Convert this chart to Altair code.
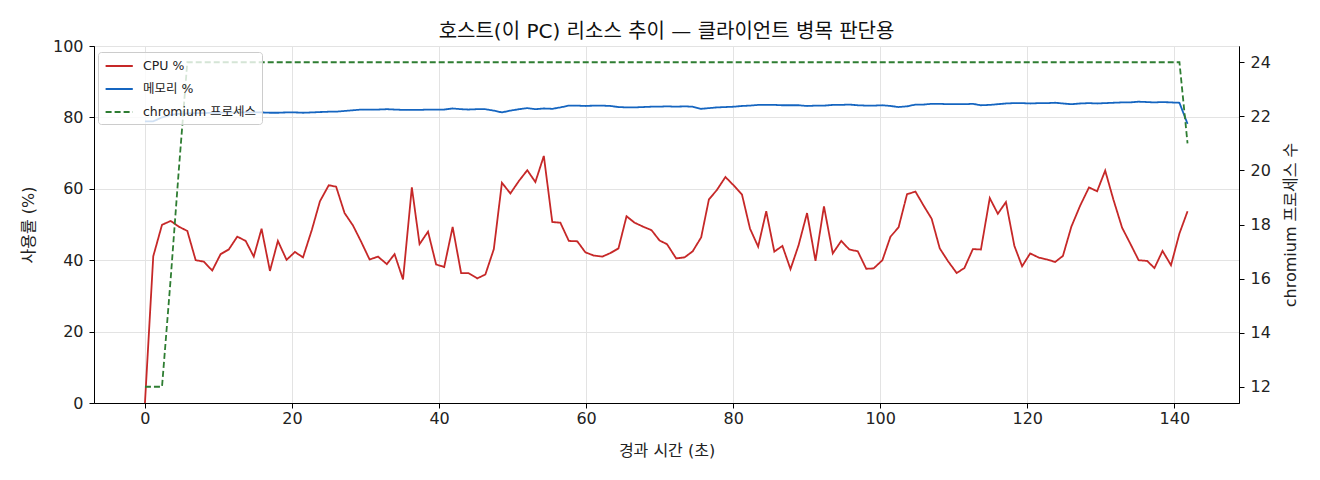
"""Host resource trend chart (CPU / memory / chromium process count)."""
import altair as alt
import pandas as pd

FONT = 'DejaVu Sans, Noto Sans CJK KR'

times = [
    0.0, 1.13, 2.32, 3.5, 4.6, 5.76, 6.9, 8.0, 9.15, 10.29,
    11.4, 12.56, 13.7, 14.8, 15.86, 17.0, 18.08, 19.26, 20.4, 21.5,
    22.7, 23.8, 25.0, 26.0, 27.15, 28.3, 29.4, 30.55, 31.7, 32.9,
    33.95, 35.1, 36.3, 37.35, 38.5, 39.6, 40.7, 41.85, 43.0, 44.0,
    45.2, 46.3, 47.45, 48.55, 49.7, 50.9, 52.0, 53.1, 54.25, 55.4,
    56.5, 57.65, 58.8, 59.9, 61.05, 62.2, 63.3, 64.4, 65.5, 66.6,
    67.75, 68.9, 70.0, 71.0, 72.25, 73.4, 74.5, 75.65, 76.7, 77.8,
    78.95, 80.1, 81.2, 82.3, 83.4, 84.5, 85.6, 86.7, 87.8, 88.9,
    90.05, 91.2, 92.35, 93.55, 94.7, 95.8, 96.95, 98.1, 99.1, 100.3,
    101.4, 102.5, 103.65, 104.8, 105.9, 107.0, 108.1, 109.2, 110.4, 111.45,
    112.6, 113.7, 114.9, 116.0, 117.1, 118.25, 119.3, 120.4, 121.6, 122.7,
    123.8, 124.85, 126.0, 127.2, 128.4, 129.5, 130.6, 131.7, 132.9, 134.0,
    135.15, 136.3, 137.3, 138.4, 139.55, 140.7, 141.8,
]

cpu = [
    0.0, 41.1, 49.9, 51.0, 49.4, 48.2, 40.0, 39.6, 37.1, 41.7,
    43.0, 46.6, 45.4, 41.0, 48.8, 37.0, 45.4, 40.1, 42.3, 40.8,
    48.5, 56.5, 61.0, 60.6, 53.2, 49.7, 45.2, 40.2, 41.0, 38.9,
    41.7, 34.6, 60.4, 44.5, 48.0, 38.8, 38.1, 49.3, 36.4, 36.4,
    34.9, 36.0, 43.1, 61.7, 58.7, 62.3, 65.2, 61.9, 69.2, 50.7,
    50.5, 45.4, 45.3, 42.2, 41.3, 41.0, 42.0, 43.3, 52.3, 50.5,
    49.4, 48.4, 45.5, 44.5, 40.5, 40.8, 42.5, 46.4, 57.0, 59.7,
    63.3, 60.9, 58.4, 48.8, 43.8, 53.7, 42.4, 44.0, 37.5, 44.2,
    53.2, 39.8, 55.1, 41.9, 45.4, 43.0, 42.5, 37.6, 37.7, 40.0,
    46.6, 49.2, 58.5, 59.2, 55.3, 51.6, 43.3, 39.8, 36.4, 37.8,
    43.1, 43.0, 57.4, 53.0, 56.3, 44.0, 38.3, 41.9, 40.7, 40.2,
    39.5, 41.2, 49.4, 55.3, 60.4, 59.3, 65.1, 57.1, 49.1, 44.7,
    40.0, 39.8, 37.8, 42.6, 38.6, 47.5, 53.7,
]

memory = [
    78.9, 78.9, 80.0, 80.7, 81.0, 81.1, 81.2, 81.2, 81.3, 81.3,
    81.4, 81.4, 81.4, 81.4, 81.4, 81.3, 81.3, 81.4, 81.4, 81.3,
    81.4, 81.5, 81.6, 81.6, 81.8, 82.0, 82.2, 82.2, 82.2, 82.3,
    82.2, 82.1, 82.1, 82.1, 82.2, 82.2, 82.2, 82.5, 82.3, 82.2,
    82.3, 82.3, 81.9, 81.4, 81.9, 82.3, 82.6, 82.3, 82.5, 82.4,
    82.8, 83.3, 83.3, 83.2, 83.3, 83.3, 83.2, 82.9, 82.8, 82.8,
    82.9, 83.0, 83.0, 83.1, 83.0, 83.1, 83.0, 82.4, 82.6, 82.8,
    82.9, 83.0, 83.2, 83.3, 83.5, 83.5, 83.5, 83.4, 83.4, 83.4,
    83.2, 83.3, 83.3, 83.5, 83.5, 83.6, 83.4, 83.3, 83.3, 83.4,
    83.2, 82.9, 83.1, 83.6, 83.6, 83.8, 83.8, 83.7, 83.7, 83.7,
    83.8, 83.4, 83.5, 83.7, 83.9, 84.0, 84.0, 83.9, 84.0, 84.0,
    84.1, 83.9, 83.7, 83.9, 84.0, 83.9, 84.0, 84.1, 84.2, 84.2,
    84.4, 84.3, 84.2, 84.3, 84.2, 84.1, 78.2,
]

chromium = [12, 12, 12, 16, 20] + [24] * 121 + [21]

series_names = ['CPU %', '메모리 %', 'chromium 프로세스']
series_colors = ['#c62828', '#1565c0', '#2e7d32']
series_dashes = [[1, 0], [1, 0], [6, 3]]

n = len(times)
usage = pd.DataFrame({
    't': times + times,
    'value': cpu + memory,
    'series': ['CPU %'] * n + ['메모리 %'] * n,
})
procs = pd.DataFrame({'t': times, 'value': chromium,
                      'series': 'chromium 프로세스'})

# short horizontal stroke, shifted right inside its symbol box
legend = alt.Legend(
    title=None, orient='none', legendX=4, legendY=6,
    symbolType='M-0.8,0L2.6,0', symbolSize=256, symbolStrokeWidth=1.8,
    labelFont=FONT, labelFontSize=12.5, labelColor='#222222', labelOffset=22,
    fillColor='rgba(255,255,255,0.8)', strokeColor='#cccccc',
    cornerRadius=3, padding=5, rowPadding=7,
)
color = alt.Color('series:N', legend=legend,
                  scale=alt.Scale(domain=series_names, range=series_colors))
dash = alt.StrokeDash('series:N', legend=legend,
                      scale=alt.Scale(domain=series_names, range=series_dashes))

x = alt.X('t:Q', title='경과 시간 (초)',
          scale=alt.Scale(domain=[-6.93, 148.8], nice=False, zero=False),
          axis=alt.Axis(values=[0, 20, 40, 60, 80, 100, 120, 140],
                        labelPadding=2, titlePadding=16))

left = alt.Chart(usage).mark_line(strokeWidth=1.8).encode(
    x=x,
    y=alt.Y('value:Q', title='사용률 (%)',
            scale=alt.Scale(domain=[0, 100], nice=False),
            axis=alt.Axis(values=[0, 20, 40, 60, 80, 100], orient='left',
                          labelPadding=6, titlePadding=16)),
    color=color,
    strokeDash=dash,
)

right = alt.Chart(procs).mark_line(strokeWidth=1.8).encode(
    x=x,
    y=alt.Y('value:Q', title='chromium 프로세스 수',
            scale=alt.Scale(domain=[11.4, 24.6], nice=False, zero=False),
            axis=alt.Axis(values=[12, 14, 16, 18, 20, 22, 24], orient='right',
                          grid=False, labelPadding=6, titlePadding=12,
                          titleAngle=270, titleBaseline='top')),
    color=color,
    strokeDash=dash,
)

chart = alt.layer(left, right).resolve_scale(y='independent').properties(
    width=1145,
    height=357,
    title=alt.Title('호스트(이 PC) 리소스 추이 — 클라이언트 병목 판단용',
                    font=FONT, fontSize=20, fontWeight='normal',
                    color='#111111', anchor='middle', offset=-4),
    autosize=alt.AutoSizeParams(type='none'),
    padding={'left': 86, 'top': 38, 'right': 70, 'bottom': 60},
).configure_view(
    stroke='black', strokeWidth=1,
).configure_axis(
    labelFont=FONT, labelFontSize=16, labelColor='#222222',
    titleFont=FONT, titleFontSize=16, titleFontWeight='normal',
    titleColor='#222222',
    domainColor='black', domainWidth=1,
    tickColor='black', tickSize=5, tickWidth=1,
    gridColor='#e3e3e3', gridWidth=1,
)

chart.save('out.html', embed_options={'renderer': 'svg', 'actions': False})
